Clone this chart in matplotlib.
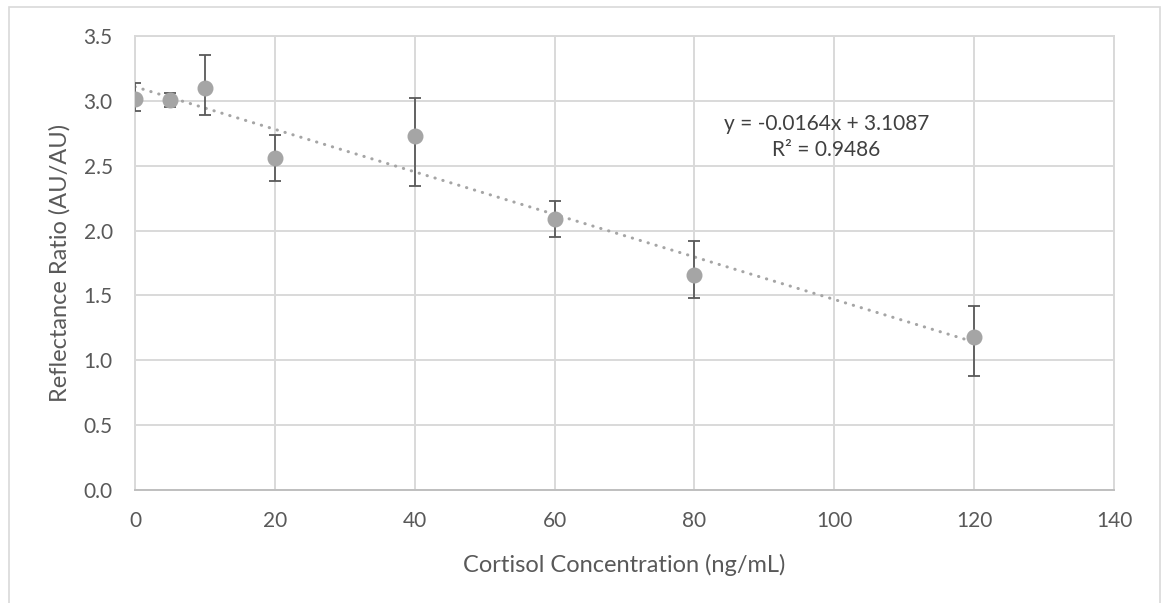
import numpy as np
import matplotlib.pyplot as plt
from matplotlib.patches import Rectangle

# cortisol standards and reflectance ratio readings
conc = [0, 5, 10, 20, 40, 60, 80, 120]
ratio = [3.013, 3.008, 3.100, 2.559, 2.731, 2.090, 1.659, 1.182]
err_up = [0.125, 0.054, 0.254, 0.174, 0.292, 0.141, 0.264, 0.236]
err_down = [0.095, 0.054, 0.210, 0.177, 0.387, 0.141, 0.180, 0.300]

# linear trendline
slope = -0.0164
intercept = 3.1087
r2 = 0.9486

xticks = [0, 20, 40, 60, 80, 100, 120, 140]
yticks = [0.0, 0.5, 1.0, 1.5, 2.0, 2.5, 3.0, 3.5]

plt.rcParams['font.family'] = ['Lato', 'DejaVu Sans']

W, H = 1162, 603
fig = plt.figure(figsize=(W/100, H/100), dpi=100)
ax = fig.add_axes([135/W, 1-490/H, (1114-135)/W, (490-36)/H])

grid_col = '#d9d9d9'
text_col = '#595959'

# chart border
fig.patches.append(Rectangle((9/W, -0.01), (1160-9)/W, 1-7/H+0.01,
                             transform=fig.transFigure, fill=False,
                             edgecolor=grid_col, lw=1.2))

ax.set_xlim(0, 140)
ax.set_ylim(0, 3.5)
ax.set_xticks(xticks)
ax.set_yticks(yticks)
ax.set_yticklabels(['%.1f' % v for v in yticks])
ax.grid(True, color=grid_col, lw=1.4)
ax.set_axisbelow(True)
for s in ax.spines.values():
    s.set_color(grid_col)
    s.set_linewidth(1.4)
ax.spines['bottom'].set_color('#bfbfbf')
ax.tick_params(length=0, labelsize=15, colors=text_col)
ax.tick_params(axis='x', pad=15)
ax.tick_params(axis='y', pad=16)

xfit = np.array([0, 120])
ax.plot(xfit, slope*xfit + intercept, color='#a5a5a5', lw=2.2,
        linestyle=(0, (0.1, 2.6)), dash_capstyle='round', zorder=2)

ax.errorbar(conc, ratio, yerr=[err_down, err_up], fmt='o', color='#a5a5a5',
            markersize=10.5, ecolor='#595959', elinewidth=1.3, capsize=4.5,
            capthick=1.3, zorder=3)

ax.text(98.9, 2.82, 'y = %.4fx + %.4f' % (slope, intercept), ha='center',
        va='center', fontsize=15, color='#404040')
ax.text(98.9, 2.62, 'R² = %.4f' % r2, ha='center', va='center',
        fontsize=15, color='#404040')

fig.text(624/W, 1-565/H, 'Cortisol Concentration (ng/mL)', ha='center',
         va='center', fontsize=17, color=text_col)
fig.text(60/W, 1-263/H, 'Reflectance Ratio (AU/AU)', ha='center',
         va='center', rotation=90, fontsize=17, color=text_col)

fig.savefig('out.png', dpi=100)
